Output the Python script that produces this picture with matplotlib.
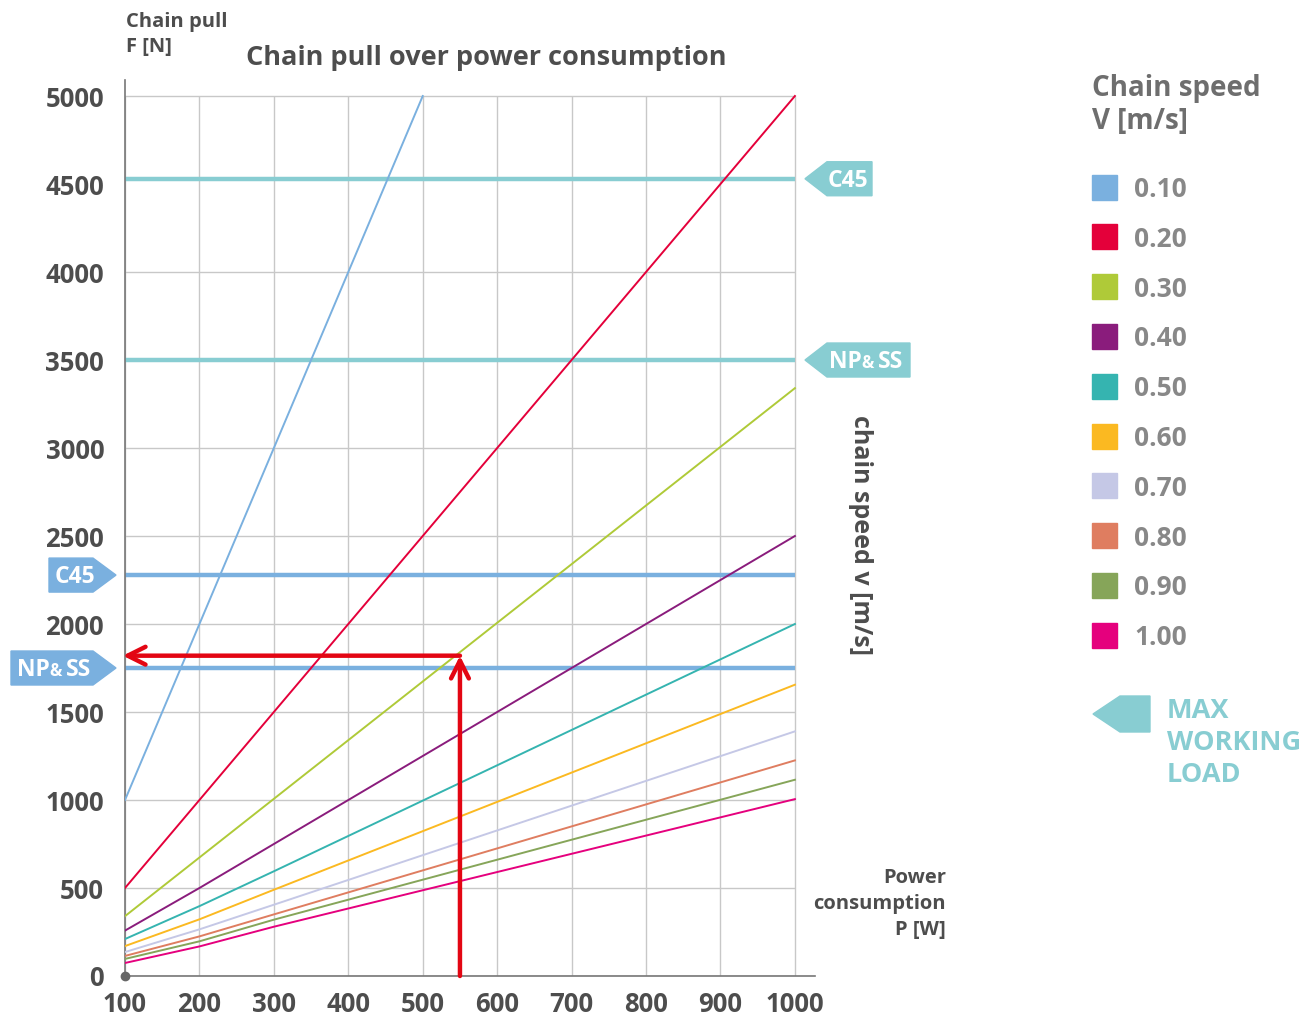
import numpy as np
import matplotlib.pyplot as plt
from matplotlib.patches import Polygon, Rectangle
from matplotlib.transforms import IdentityTransform

plt.rcParams['font.family'] = ['Open Sans', 'DejaVu Sans']
plt.rcParams['font.weight'] = 'bold'

# chain speed series
speeds = ['0.10', '0.20', '0.30', '0.40', '0.50', '0.60', '0.70', '0.80', '0.90', '1.00']
colors = ['#7AB0DF', '#E4003A', '#AFCA38', '#8A1C7C', '#35B4B0',
          '#FBB921', '#C5C8E6', '#DF7D60', '#86A559', '#E5007D']
series_p = [
    [100, 500],
    [100, 1000],
    [100, 1000],
    [100, 200, 1000],
    [100, 200, 300, 1000],
    [100, 200, 300, 1000],
    [100, 200, 300, 1000],
    [100, 200, 300, 1000],
    [100, 200, 300, 1000],
    [100, 200, 300, 1000],
]
series_f = [
    [1000, 5000],
    [500, 5000],
    [340, 3340],
    [258, 500, 2500],
    [210, 397, 595, 2000],
    [170, 322, 490, 1655],
    [136, 265, 405, 1390],
    [114, 225, 350, 1225],
    [97, 197, 320, 1115],
    [74, 168, 280, 1005],
]

# max working load lines
load_names = ['C45', 'NP&SS']
load_right = [4530, 3500]   # cyan, tags on the right
load_left = [2278, 1750]    # blue, tags on the left

# worked example
example_p = 550
example_f = 1820

xticks = [100, 200, 300, 400, 500, 600, 700, 800, 900, 1000]
yticks = [0, 500, 1000, 1500, 2000, 2500, 3000, 3500, 4000, 4500, 5000]

CYAN = '#88CDD2'
BLUE = '#7AB0DF'
RED = '#E30613'
DARK = '#4D4D4D'
GRID = '#C8C8C8'

W, H = 1311, 1017
fig = plt.figure(figsize=(W / 100, H / 100), dpi=100)
ax = fig.add_axes([125 / W, 41 / H, 690 / W, 896 / H])
ax.set_xlim(100, 1027)
ax.set_ylim(0, 5091)

# grid only inside the data range (4500 is hidden under the C45 line)
ax.hlines([y for y in yticks if y != 4500], 100, 1000, color=GRID, lw=1, zorder=1)
ax.vlines(xticks, 0, 5000, color=GRID, lw=1, zorder=1)

for sp in ['top', 'right']:
    ax.spines[sp].set_visible(False)
ax.spines['left'].set_color('#777777')
ax.spines['bottom'].set_color('#777777')
ax.spines['left'].set_linewidth(1.2)
ax.spines['bottom'].set_linewidth(1.2)

ax.set_xticks(xticks)
ax.set_yticks(yticks)
ax.tick_params(length=0, labelsize=18.5, colors=DARK)
ax.tick_params(axis='x', pad=11)
ax.tick_params(axis='y', pad=15)
for lab in ax.get_xticklabels() + ax.get_yticklabels():
    lab.set_fontweight('bold')
ax.plot([100], [0], 'o', color='#666666', ms=6, clip_on=False, zorder=5)

# max working load lines
for y in load_right:
    ax.hlines(y, 100, 1000, color=CYAN, lw=3.2, zorder=2)
for y in load_left:
    ax.hlines(y, 100, 1000, color=BLUE, lw=3.2, zorder=2)

# chain speed lines
for i in range(len(speeds)):
    ax.plot(series_p[i], series_f[i], color=colors[i], lw=1.4, zorder=3)

# worked example arrows
ax.annotate('', xy=(example_p, example_f), xytext=(example_p, 0),
            arrowprops=dict(arrowstyle='->', color=RED, lw=3.2, mutation_scale=32,
                            shrinkA=0, shrinkB=0), zorder=6, annotation_clip=False)
ax.annotate('', xy=(97, example_f), xytext=(example_p, example_f),
            arrowprops=dict(arrowstyle='->', color=RED, lw=3.2, mutation_scale=32,
                            shrinkA=0, shrinkB=0), zorder=6, annotation_clip=False)


def disp_y(yval):
    return ax.transData.transform((100, yval))[1]


def tag(cy, x0, x1, tip_w, point, color, name, tx, tsize=16.5):
    # pentagon tag in pixel coords, pointing left or right
    h = 17
    if point == 'left':
        verts = [(x0, cy), (x0 + tip_w, cy + h), (x1, cy + h), (x1, cy - h), (x0 + tip_w, cy - h)]
    else:
        verts = [(x1, cy), (x1 - tip_w, cy + h), (x0, cy + h), (x0, cy - h), (x1 - tip_w, cy - h)]
    fig.add_artist(Polygon(verts, closed=True, color=color, transform=IdentityTransform()))
    base = (cy - 8.2) / H
    kw = dict(color='white', fontweight='bold', ha='left', va='baseline')
    if name == 'NP&SS':
        fig.text(tx / W, base, 'NP', fontsize=tsize, **kw)
        fig.text((tx + 32) / W, base, '&', fontsize=tsize - 4.5, **kw)
        fig.text((tx + 49) / W, base, 'SS', fontsize=tsize, **kw)
    else:
        fig.text(tx / W, base, name, fontsize=tsize, **kw)


fig.canvas.draw()
tag(disp_y(load_right[0]), 805, 872, 22, 'left', CYAN, load_names[0], 828)
tag(disp_y(load_right[1]), 805, 910, 22, 'left', CYAN, load_names[1], 829)
tag(disp_y(load_left[0]), 49, 116, 23, 'right', BLUE, load_names[0], 55)
tag(disp_y(load_left[1]), 11, 116, 23, 'right', BLUE, load_names[1], 17)

# titles and axis labels
fig.text(126 / W, 1 - 12 / H, 'Chain pull\nF [N]', color=DARK, fontsize=14.5, fontweight='bold',
         ha='left', va='top', linespacing=1.3)
fig.text(246 / W, 1 - 65 / H, 'Chain pull over power consumption', color=DARK, fontsize=19.5,
         fontweight='bold', ha='left', va='baseline')
fig.text(946 / W, 1 - 868 / H, 'Power\nconsumption\nP [W]', color=DARK, fontsize=14.5,
         fontweight='bold', ha='right', va='top', linespacing=1.4)
fig.text(860 / W, 1 - 535 / H, 'chain speed v [m/s]', color=DARK, fontsize=18,
         fontweight='bold', ha='center', va='center', rotation=-90)

# legend
fig.text(1092 / W, 1 - 74 / H, 'Chain speed\nV [m/s]', color='#6E6E6E', fontsize=20,
         fontweight='bold', ha='left', va='top', linespacing=1.2)
for i in range(len(speeds)):
    cy = H - (187 + i * 49.8)
    fig.add_artist(Rectangle((1092, cy - 12.5), 25, 25, color=colors[i], transform=IdentityTransform()))
    fig.text(1187 / W, (cy - 10) / H, speeds[i], color='#888888', fontsize=19, fontweight='bold',
             ha='right', va='baseline')

# max working load key
cy = H - 714
fig.add_artist(Polygon([(1093, cy), (1120, cy + 18), (1150, cy + 18), (1150, cy - 18), (1120, cy - 18)],
                       closed=True, color=CYAN, transform=IdentityTransform()))
fig.text(1167 / W, 1 - 698 / H, 'MAX\nWORKING\nLOAD', color=CYAN, fontsize=19.5, fontweight='bold',
         ha='left', va='top', linespacing=1.3)

fig.savefig('out.png', dpi=100)
